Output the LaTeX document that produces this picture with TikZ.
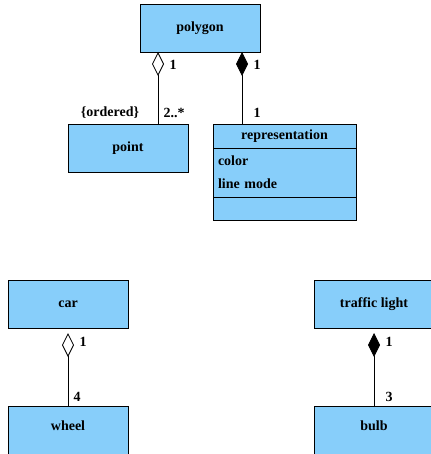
\documentclass[tikz,border=0pt]{standalone}
\usepackage{fontspec}
\setmainfont{Liberation Serif}
\usetikzlibrary{arrows.meta}
\usetikzlibrary{positioning}
\definecolor{classblue}{RGB}{135,206,250}

\begin{document}
\begin{tikzpicture}[x=1pt, y=-1pt,
    every node/.style={font=\fontsize{14}{17}\selectfont\bfseries},
    class/.style={draw, fill=classblue, line width=0.8pt, minimum width=120pt, minimum height=48pt, inner sep=0pt, outer sep=0pt},
    mult/.style={inner sep=0pt},
    aggr/.style={line width=0.8pt, {Diamond[open, length=24pt, width=12pt]}-},
    comp/.style={line width=0.8pt, {Diamond[length=24pt, width=12pt]}-}]
        \useasboundingbox (0,0) rectangle (430,454);
        % polygon and its parts
        \node[class] (polygon) at (200,28) {polygon};
        \node[class] (point) at (128,148) {point};
        \node[class, minimum width=143pt, minimum height=24pt] (repr) at (284.5,136) {representation};
        \node[class, minimum width=143pt, minimum height=49pt, text width=133pt, align=left,
              font=\fontsize{14}{23}\selectfont\bfseries, below=0pt of repr] (reprattr) {color\\line mode};
        \node[class, minimum width=143pt, minimum height=23pt, below=0pt of reprattr] (reprops) {};

        \draw[aggr] ([xshift=18pt]polygon.south west) -- ([xshift=18pt]polygon.south west |- point.north);
        \draw[comp] ([xshift=-18pt]polygon.south east) -- ([xshift=-18pt]polygon.south east |- repr.north);

        \node[mult] (polyone) at (173,65) {1};
        \node[mult] (ordered) at (110,113) {\{ordered\}};
        \node[mult] (pointmany) at (174,113) {2..*};
        \node[mult] (polytwo) at (257,65) {1};
        \node[mult] (reprone) at (257,113) {1};

        % car and wheel
        \node[class] (car) at (68,304) {car};
        \node[class, text depth=9pt] (wheel) at (68,430) {wheel};
        \draw[aggr, shorten <=5pt] (car) -- (wheel);
        \node[mult] (carone) at (83,342) {1};
        \node[mult] (wheelfour) at (77,397) {4};

        % traffic light and bulb
        \node[class] (light) at (374,304) {traffic light};
        \node[class, text depth=9pt] (bulb) at (374,430) {bulb};
        \draw[comp, shorten <=5pt] (light) -- (bulb);
        \node[mult] (lightone) at (389,342) {1};
        \node[mult] (bulbthree) at (389,397) {3};
\end{tikzpicture}
\end{document}
